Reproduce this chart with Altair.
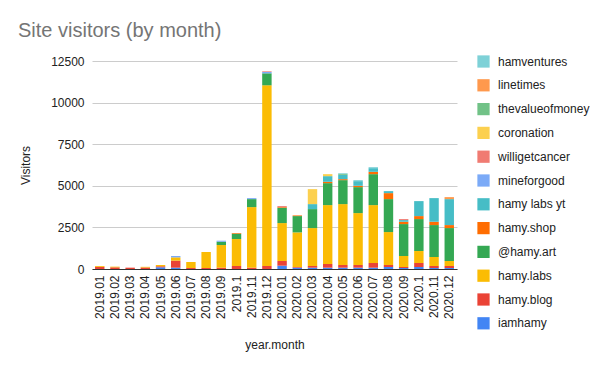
import altair as alt
import pandas as pd

months = ["2019.01", "2019.02", "2019.03", "2019.04", "2019.05", "2019.06", "2019.07",
          "2019.08", "2019.09", "2019.1", "2019.11", "2019.12",
          "2020.01", "2020.02", "2020.03", "2020.04", "2020.05", "2020.06", "2020.07",
          "2020.08", "2020.09", "2020.1", "2020.11", "2020.12"]

series = ["iamhamy", "hamy.blog", "hamy.labs", "@hamy.art", "hamy.shop", "hamy labs yt",
          "mineforgood", "willigetcancer", "coronation", "thevalueofmoney", "linetimes", "hamventures"]

colors = ["#4285F4", "#EA4335", "#FBBC04", "#34A853", "#FF6D01", "#46BDC6",
          "#7BAAF7", "#F07B72", "#FCD04F", "#71C287", "#FF994D", "#7ED1D7"]

iamhamy =         [0, 0, 0, 0, 100, 80, 0, 0, 0, 0, 0, 0,
                   200, 80, 80, 80, 80, 80, 80, 120, 60, 120, 60, 60]
hamy_blog =       [130, 100, 80, 90, 60, 420, 60, 60, 80, 180, 80, 180,
                   280, 40, 100, 220, 160, 160, 280, 120, 60, 240, 120, 120]
hamy_labs =       [50, 40, 0, 40, 80, 200, 360, 960, 1360, 1620, 3640, 10860,
                   2280, 2080, 2280, 3540, 3660, 3120, 3480, 1980, 660, 720, 540, 300]
hamy_art =        [0, 0, 0, 0, 0, 0, 0, 0, 200, 320, 480, 720,
                   920, 980, 1140, 1320, 1440, 1560, 1860, 1980, 1920, 1920, 1920, 1980]
hamy_shop =       [0, 0, 0, 0, 0, 0, 0, 0, 0, 40, 0, 0,
                   40, 40, 0, 80, 60, 80, 140, 360, 140, 180, 200, 180]
hamy_labs_yt =    [0, 0, 0, 0, 0, 0, 0, 0, 0, 0, 0, 0,
                   0, 0, 300, 340, 260, 280, 220, 120, 100, 900, 1420, 1560]
mineforgood =     [0, 0, 0, 0, 0, 80, 0, 0, 60, 0, 60, 80,
                   0, 0, 0, 0, 0, 0, 0, 0, 0, 0, 0, 0]
willigetcancer =  [0, 0, 0, 0, 0, 0, 0, 0, 0, 0, 0, 40,
                   60, 0, 0, 0, 0, 0, 0, 0, 60, 0, 0, 0]
coronation =      [0, 0, 0, 0, 0, 0, 0, 0, 0, 0, 0, 0,
                   0, 0, 900, 120, 0, 0, 0, 0, 0, 0, 0, 0]
thevalueofmoney = [0, 0, 0, 0, 0, 0, 0, 0, 0, 0, 0, 0,
                   0, 0, 0, 0, 60, 0, 0, 0, 0, 0, 0, 0]
linetimes =       [0, 0, 0, 0, 0, 0, 0, 0, 0, 0, 0, 0,
                   0, 0, 0, 0, 0, 0, 0, 0, 0, 0, 0, 120]
hamventures =     [0, 0, 0, 0, 0, 0, 0, 0, 0, 0, 0, 0,
                   0, 0, 0, 0, 40, 60, 60, 0, 0, 0, 0, 0]

values = [iamhamy, hamy_blog, hamy_labs, hamy_art, hamy_shop, hamy_labs_yt,
          mineforgood, willigetcancer, coronation, thevalueofmoney, linetimes, hamventures]

rows = []
for si, (name, vals) in enumerate(zip(series, values)):
    for m, v in zip(months, vals):
        rows.append({"month": m, "series": name, "value": v, "idx": si})
df = pd.DataFrame(rows)

FONT = "Liberation Sans"

chart = alt.Chart(df).mark_bar().encode(
    x=alt.X("month:N", sort=months,
            scale=alt.Scale(paddingInner=0.38, paddingOuter=0.2),
            axis=alt.Axis(title="year.month", labelAngle=270, labelFontSize=12,
                          labelColor="#222222", titleFontSize=12, titleFontWeight="normal",
                          titleColor="#222222", domainColor="#333333", ticks=False,
                          labelPadding=6, titlePadding=21)),
    y=alt.Y("value:Q", stack="zero",
            scale=alt.Scale(domain=[0, 12500], nice=False),
            axis=alt.Axis(title="Visitors", values=[0, 2500, 5000, 7500, 10000, 12500],
                          format="d", labelFontSize=12, labelColor="#222222",
                          titleFontSize=12, titleFontWeight="normal", titleColor="#222222",
                          gridColor="#cccccc", domain=False, ticks=False,
                          labelPadding=8, titlePadding=18)),
    color=alt.Color("series:N",
                    scale=alt.Scale(domain=series[::-1], range=colors[::-1]),
                    legend=alt.Legend(title=None, orient="none", legendX=385, legendY=-6,
                                      symbolType="square", symbolSize=150,
                                      symbolStrokeWidth=0, labelFontSize=12,
                                      labelColor="#222222", rowPadding=10.8,
                                      labelOffset=8)),
    order=alt.Order("idx:Q", sort="ascending"),
).properties(
    width=365, height=208,
    title=alt.Title("Site visitors (by month)", anchor="start", frame="group",
                    dx=-74, fontSize=20, fontWeight="normal", color="#757575",
                    offset=14),
    autosize=alt.AutoSizeParams(type="none"),
    padding={"left": 84, "top": 53, "right": 140, "bottom": 94},
).configure(font=FONT).configure_view(stroke=None)

chart.save("out.html", embed_options={"renderer": "svg", "actions": False})
